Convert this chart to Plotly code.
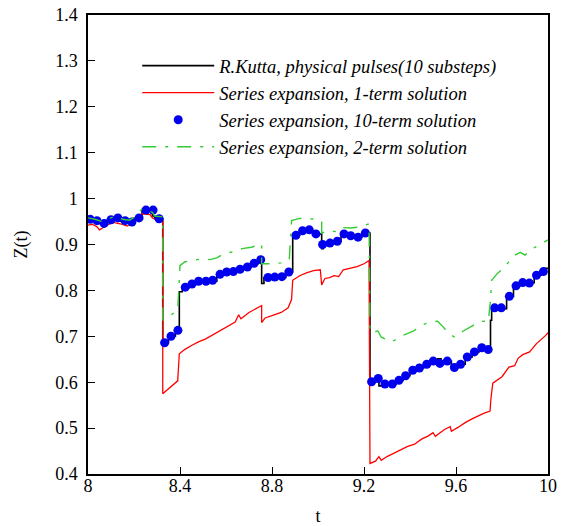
import plotly.graph_objects as go

# Series expansion, 10-term solution (dots)
t_dots = [8.009, 8.039, 8.070, 8.100, 8.130, 8.161, 8.191, 8.222, 8.252, 8.283, 8.309,
          8.333, 8.361, 8.391,
          8.423, 8.452, 8.481, 8.513, 8.542, 8.574, 8.603, 8.632, 8.661, 8.693, 8.722, 8.751,
          8.783, 8.812, 8.843, 8.873,
          8.904, 8.933, 8.962, 8.991,
          9.020, 9.052, 9.084, 9.113, 9.142, 9.174, 9.206,
          9.233, 9.262, 9.291, 9.323, 9.352, 9.381, 9.412, 9.441, 9.473, 9.501, 9.530, 9.562,
          9.593, 9.620, 9.649, 9.680, 9.712, 9.740,
          9.768, 9.797, 9.832, 9.861, 9.890, 9.919, 9.950, 9.980]
z_dots = [0.955, 0.952, 0.946, 0.954, 0.958, 0.952, 0.949, 0.958, 0.975, 0.975, 0.956,
          0.686, 0.700, 0.713,
          0.807, 0.814, 0.820, 0.820, 0.822, 0.835, 0.840, 0.841, 0.846, 0.851, 0.859, 0.867,
          0.828, 0.829, 0.830, 0.840,
          0.920, 0.930, 0.932, 0.923,
          0.900, 0.903, 0.907, 0.923, 0.919, 0.916, 0.925,
          0.601, 0.608, 0.596, 0.596, 0.604, 0.614, 0.626, 0.631, 0.639, 0.646, 0.641, 0.646,
          0.632, 0.639, 0.655, 0.666, 0.675, 0.671,
          0.762, 0.762, 0.787, 0.810, 0.817, 0.816, 0.833, 0.841]

# R.Kutta, physical pulses (step values)
t_rk = [8.000, 8.020, 8.050, 8.080, 8.110, 8.140, 8.170, 8.200, 8.235, 8.280, 8.290,
        8.325, 8.350, 8.380, 8.397, 8.410, 8.440, 8.470, 8.560, 8.600, 8.650, 8.680,
        8.710, 8.740, 8.755, 8.765, 8.860, 8.890, 8.920, 8.985, 9.016, 9.022, 9.040,
        9.070, 9.100, 9.130, 9.160, 9.190, 9.226, 9.250, 9.265, 9.300, 9.340, 9.370,
        9.400, 9.430, 9.460, 9.490, 9.520, 9.535, 9.550, 9.580, 9.610, 9.640, 9.670,
        9.700, 9.730, 9.750, 9.755, 9.820, 9.850, 9.880, 9.940, 9.970, 9.990, 10.000]
z_rk = [0.956, 0.953, 0.946, 0.952, 0.958, 0.951, 0.949, 0.957, 0.975, 0.962, 0.956,
        0.686, 0.700, 0.712, 0.797, 0.806, 0.813, 0.820, 0.835, 0.840, 0.846, 0.851,
        0.858, 0.867, 0.815, 0.828, 0.840, 0.920, 0.930, 0.923, 0.891, 0.900, 0.903,
        0.907, 0.923, 0.919, 0.916, 0.925, 0.600, 0.608, 0.592, 0.596, 0.604, 0.614,
        0.626, 0.631, 0.639, 0.646, 0.651, 0.641, 0.646, 0.632, 0.639, 0.655, 0.666,
        0.675, 0.668, 0.735, 0.760, 0.787, 0.810, 0.817, 0.833, 0.841, 0.848, 0.850]

# Series expansion, 1-term solution
t_one = [8.000, 8.020, 8.040, 8.050, 8.070, 8.090, 8.110, 8.130, 8.150, 8.170, 8.190,
         8.210, 8.235, 8.270, 8.280, 8.310, 8.325, 8.325, 8.350, 8.390, 8.397, 8.420,
         8.450, 8.480, 8.510, 8.550, 8.580, 8.610, 8.640, 8.655, 8.665, 8.700, 8.740,
         8.755, 8.755, 8.770, 8.800, 8.840, 8.870, 8.885, 8.890, 8.920, 8.950, 8.980,
         9.010, 9.016, 9.030, 9.050, 9.070, 9.090, 9.110, 9.140, 9.170, 9.200, 9.222,
         9.226, 9.250, 9.265, 9.275, 9.300, 9.330, 9.360, 9.390, 9.420, 9.450, 9.480,
         9.500, 9.510, 9.530, 9.550, 9.575, 9.580, 9.610, 9.640, 9.670, 9.700, 9.720,
         9.748, 9.752, 9.760, 9.800, 9.830, 9.855, 9.870, 9.890, 9.920, 9.950, 9.990, 10.000]
z_one = [0.942, 0.944, 0.938, 0.932, 0.938, 0.944, 0.948, 0.946, 0.944, 0.940, 0.946,
         0.956, 0.967, 0.965, 0.958, 0.952, 0.950, 0.575, 0.585, 0.603, 0.662, 0.671,
         0.680, 0.688, 0.694, 0.705, 0.714, 0.722, 0.731, 0.747, 0.738, 0.752, 0.764,
         0.767, 0.730, 0.740, 0.745, 0.752, 0.762, 0.780, 0.822, 0.832, 0.838, 0.843,
         0.845, 0.812, 0.826, 0.828, 0.832, 0.830, 0.845, 0.848, 0.852, 0.858, 0.865,
         0.423, 0.428, 0.438, 0.430, 0.438, 0.445, 0.452, 0.460, 0.465, 0.476, 0.483,
         0.490, 0.482, 0.490, 0.497, 0.503, 0.493, 0.502, 0.512, 0.520, 0.528, 0.532,
         0.537, 0.565, 0.598, 0.612, 0.633, 0.636, 0.652, 0.660, 0.666, 0.684, 0.702, 0.708]

# Series expansion, 2-term solution
t_two = [8.000, 8.030, 8.060, 8.090, 8.120, 8.150, 8.180, 8.210, 8.235, 8.280, 8.290,
         8.325, 8.325, 8.360, 8.390, 8.400, 8.420, 8.460, 8.500, 8.530, 8.560, 8.590,
         8.630, 8.670, 8.710, 8.755, 8.755, 8.800, 8.840, 8.875, 8.885, 8.920, 8.960,
         9.000, 9.016, 9.016, 9.050, 9.080, 9.100, 9.140, 9.180, 9.222, 9.226, 9.240,
         9.260, 9.275, 9.320, 9.370, 9.414, 9.450, 9.487, 9.520, 9.545, 9.570, 9.596,
         9.630, 9.675, 9.710, 9.740, 9.750, 9.755, 9.780, 9.810, 9.850, 9.880, 9.900,
         9.930, 9.960, 10.000]
z_two = [0.958, 0.955, 0.950, 0.956, 0.962, 0.955, 0.953, 0.962, 0.978, 0.970, 0.962,
         0.960, 0.735, 0.746, 0.757, 0.854, 0.862, 0.866, 0.869, 0.867, 0.871, 0.880,
         0.884, 0.891, 0.894, 0.901, 0.858, 0.858, 0.860, 0.866, 0.952, 0.957, 0.956,
         0.955, 0.950, 0.925, 0.930, 0.928, 0.937, 0.936, 0.938, 0.945, 0.709, 0.709,
         0.712, 0.698, 0.688, 0.702, 0.711, 0.724, 0.731, 0.733, 0.720, 0.705, 0.698,
         0.711, 0.724, 0.733, 0.732, 0.778, 0.822, 0.837, 0.850, 0.875, 0.883, 0.877,
         0.891, 0.898, 0.910]

x_ticks = [8, 8.4, 8.8, 9.2, 9.6, 10]
x_tick_labels = ["8", "8.4", "8.8", "9.2", "9.6", "10"]
y_ticks = [0.4, 0.5, 0.6, 0.7, 0.8, 0.9, 1.0, 1.1, 1.2, 1.3, 1.4]
y_tick_labels = ["0.4", "0.5", "0.6", "0.7", "0.8", "0.9", "1", "1.1", "1.2", "1.3", "1.4"]

serif = "Liberation Serif, Times New Roman, serif"

fig = go.Figure()
fig.add_trace(go.Scatter(x=t_rk, y=z_rk, mode="lines", line_shape="hv",
                         line=dict(color="black", width=1.6),
                         name="R.Kutta, physical pulses(10 substeps)"))
fig.add_trace(go.Scatter(x=t_one, y=z_one, mode="lines",
                         line=dict(color="#ff0000", width=1.3),
                         name="Series expansion, 1-term solution"))
fig.add_trace(go.Scatter(x=t_dots, y=z_dots, mode="markers",
                         marker=dict(color="#0000ee", size=9, line=dict(width=0)),
                         name="Series expansion, 10-term solution"))
fig.add_trace(go.Scatter(x=t_two, y=z_two, mode="lines",
                         line=dict(color="#33cc33", width=1.4, dash="14px,9px,3px,9px"),
                         name="Series expansion, 2-term solution"))

fig.update_layout(
    width=571, height=526,
    margin=dict(l=88, r=23, t=15, b=52, autoexpand=False),
    paper_bgcolor="white", plot_bgcolor="white",
    font=dict(family=serif, size=18, color="black"),
    showlegend=True,
    legend=dict(x=0.107, y=0.93, xanchor="left", yanchor="top",
                bgcolor="rgba(0,0,0,0)", borderwidth=0,
                font=dict(family=serif, size=18.5, style="italic", color="black"),
                itemwidth=72, tracegroupgap=0),
    xaxis=dict(range=[8, 10], tickmode="array", tickvals=x_ticks, ticktext=x_tick_labels,
               ticks="inside", ticklen=7, tickwidth=1.2, tickcolor="black",
               showline=True, linecolor="black", linewidth=1.5, mirror=True,
               showgrid=False, zeroline=False, automargin=False, ticklabelstandoff=-5,
               title=dict(text="t", font=dict(family=serif, size=18), standoff=14),
               tickfont=dict(family=serif, size=18)),
    yaxis=dict(range=[0.4, 1.4], tickmode="array", tickvals=y_ticks, ticktext=y_tick_labels,
               ticks="inside", ticklen=7, tickwidth=1.2, tickcolor="black",
               showline=True, linecolor="black", linewidth=1.5, mirror=True,
               showgrid=False, zeroline=False, automargin=False, ticklabelstandoff=5,
               title=dict(text="Z(t)", font=dict(family=serif, size=18), standoff=23),
               tickfont=dict(family=serif, size=18)),
)

# remove the default 8px page margin so the figure fills the window exactly
fig.write_html("out.html", config={"displayModeBar": False},
               post_script="document.body.style.margin='0';")
